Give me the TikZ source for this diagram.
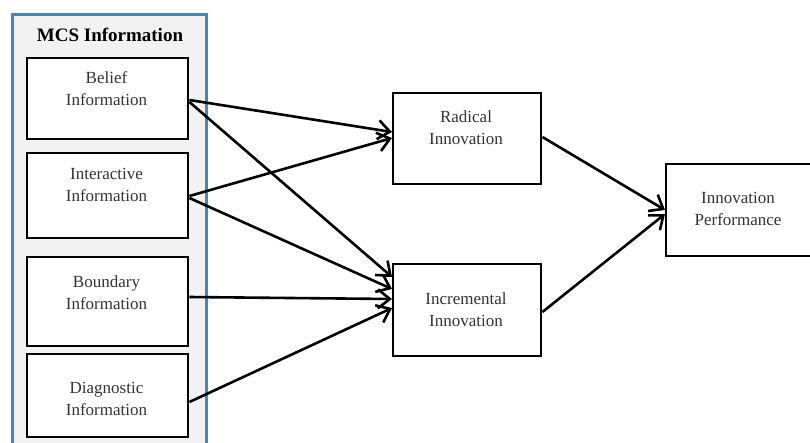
\documentclass[tikz,border=0pt]{standalone}
\usepackage{fontspec}
\setmainfont{Liberation Serif}
\usetikzlibrary{arrows.meta}
\definecolor{panelblue}{HTML}{4F81BD}
\definecolor{panelfill}{HTML}{F2F2F2}
\definecolor{txt}{HTML}{333333}
\tikzset{
  boxnode/.style={draw=black, line width=2.4pt, fill=white, inner sep=0pt},
  lbl/.style={align=center, font=\fontsize{17}{22}\selectfont, text=txt, inner sep=0pt},
  conn/.style={line width=2.6pt, -{Straight Barb[length=12pt,width=19pt,line width=2.6pt]}}
}
\begin{document}
\begin{tikzpicture}[x=1pt,y=-1pt]
\useasboundingbox (0,0) rectangle (810,442);
\begin{scope}
\clip (0,0) rectangle (810,442);
\node[draw=panelblue, line width=2.6pt, fill=panelfill, minimum width=194pt, minimum height=440pt, anchor=north west, inner sep=0pt] (panel) at (11,13) {};
\end{scope}
\node[font=\bfseries\fontsize{19}{22}\selectfont, inner sep=0pt] (title) at (110,35) {MCS Information};

\node[boxnode, minimum width=161pt, minimum height=81pt, anchor=north west] (belief) at (26,57) {};
\node[lbl] (beliefT) at (106.5,88.5) {Belief\\Information};
\node[boxnode, minimum width=161pt, minimum height=85pt, anchor=north west] (inter) at (26,152) {};
\node[lbl] (interT) at (106.5,185) {Interactive\\Information};
\node[boxnode, minimum width=161pt, minimum height=89pt, anchor=north west] (bound) at (26,256) {};
\node[lbl] (boundT) at (106.5,292.5) {Boundary\\Information};
\node[boxnode, minimum width=161pt, minimum height=83pt, anchor=north west] (diag) at (26,353) {};
\node[lbl] (diagT) at (106.5,399) {Diagnostic\\Information};

\node[boxnode, minimum width=148pt, minimum height=91pt, anchor=north west] (rad) at (392,92) {};
\node[lbl] (radT) at (466,128) {Radical\\Innovation};
\node[boxnode, minimum width=148pt, minimum height=92pt, anchor=north west] (inc) at (392,263) {};
\node[lbl] (incT) at (466,310) {Incremental\\Innovation};
\node[boxnode, minimum width=146pt, minimum height=92pt, anchor=north west] (perf) at (665,163) {};
\node[lbl] (perfT) at (738,209) {Innovation\\Performance};

\draw[conn] (belief.east |- 0,100) -- (rad.west |- 0,132);
\draw[conn] (belief.east |- 0,102) -- (inc.west |- 0,277);
\draw[conn] (inter.east |- 0,196) -- (rad.west |- 0,138);
\draw[conn] (inter.east |- 0,198) -- (inc.west |- 0,289);
\draw[conn] (bound.east |- 0,297) -- (inc.west |- 0,299);
\draw[conn] (diag.east |- 0,402) -- (inc.west |- 0,308);
\draw[conn] (rad.east |- 0,137) -- (perf.west |- 0,210);
\draw[conn] (inc.east |- 0,312) -- (perf.west |- 0,214);
\end{tikzpicture}
\end{document}
